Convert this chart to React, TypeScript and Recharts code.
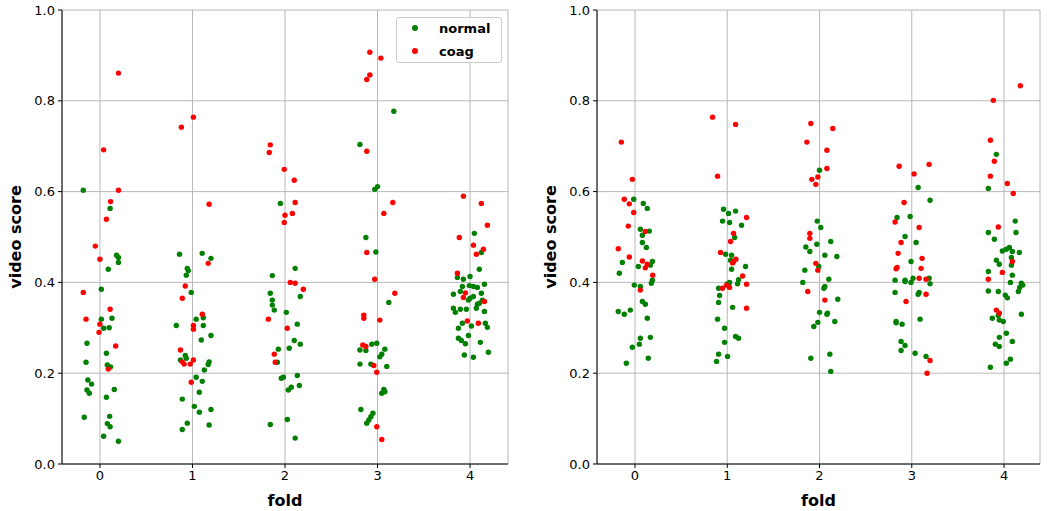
import { CartesianGrid, Legend, Scatter, ScatterChart, XAxis, YAxis } from "recharts";

// each fold: [jitter, score]
type Pt = [number, number];

const folds = [0, 1, 2, 3, 4];
const yTicks = [0, 0.2, 0.4, 0.6, 0.8, 1.0];

const leftNormal: Pt[][] = [
  [[-0.18,0.603],[0.11,0.563],[0.18,0.46],[0.2,0.455],[0.2,0.444],[0.09,0.429],[0.015,0.385],[0.015,0.319],[0.13,0.321],[0.04,0.299],[0.1,0.3],[-0.14,0.266],[0.07,0.244],[-0.15,0.224],[0.08,0.218],[0.115,0.214],[-0.13,0.185],[-0.09,0.176],[-0.14,0.163],[-0.115,0.156],[0.155,0.164],[0.07,0.147],[-0.17,0.103],[0.105,0.105],[0.08,0.089],[0.11,0.082],[0.04,0.061],[0.2,0.05]],
  [[-0.14,0.462],[0.105,0.464],[0.2,0.453],[-0.056,0.431],[-0.045,0.426],[-0.067,0.416],[-0.013,0.378],[0.04,0.319],[0.117,0.322],[-0.175,0.305],[0.117,0.305],[0.095,0.273],[0.2,0.283],[-0.078,0.239],[-0.067,0.233],[-0.13,0.229],[0.18,0.225],[0.17,0.219],[0.128,0.207],[0.04,0.191],[0.106,0.182],[0.074,0.158],[-0.11,0.143],[0.02,0.127],[0.2,0.12],[0.074,0.114],[-0.056,0.09],[0.18,0.086],[-0.11,0.076]],
  [[-0.05,0.574],[0.11,0.431],[-0.137,0.415],[0.165,0.369],[-0.159,0.376],[-0.137,0.361],[-0.137,0.35],[-0.116,0.339],[0.014,0.334],[0.133,0.308],[0.1,0.272],[0.165,0.264],[-0.072,0.253],[0.046,0.255],[-0.083,0.224],[0.133,0.195],[-0.04,0.189],[-0.018,0.191],[0.155,0.173],[0.068,0.169],[0.036,0.163],[0.025,0.098],[-0.159,0.087],[0.11,0.057]],
  [[0.176,0.777],[-0.19,0.704],[0,0.611],[-0.03,0.605],[-0.126,0.499],[-0.018,0.467],[0.122,0.356],[-0.062,0.264],[-0.008,0.266],[-0.19,0.251],[-0.126,0.25],[0.079,0.253],[0.046,0.242],[0.025,0.236],[-0.19,0.22],[-0.072,0.22],[0.1,0.215],[0.068,0.164],[0.079,0.159],[0.046,0.156],[-0.18,0.12],[-0.05,0.112],[-0.072,0.104],[-0.094,0.097],[-0.116,0.09]],
  [[0.046,0.508],[0.122,0.466],[0.1,0.429],[-0.137,0.411],[-0.072,0.407],[0,0.413],[0.155,0.396],[-0.083,0.391],[-0.008,0.393],[0.036,0.391],[0.079,0.389],[-0.105,0.38],[-0.18,0.374],[0.122,0.376],[0.036,0.369],[0,0.365],[-0.018,0.361],[0.133,0.361],[0.079,0.352],[0.1,0.354],[-0.18,0.343],[-0.159,0.334],[-0.105,0.341],[-0.04,0.341],[0.068,0.343],[0.155,0.336],[-0.083,0.31],[0.165,0.31],[0.014,0.304],[0.187,0.301],[-0.126,0.299],[-0.018,0.283],[-0.126,0.277],[-0.094,0.272],[-0.05,0.265],[0.111,0.268],[0.198,0.246],[-0.062,0.24],[0.036,0.235]],
];

const leftCoag: Pt[][] = [
  [[0.2,0.861],[0.04,0.692],[0.2,0.603],[0.115,0.578],[0.07,0.539],[-0.05,0.48],[0,0.451],[-0.18,0.378],[0.11,0.341],[-0.15,0.319],[0,0.308],[-0.01,0.29],[0.17,0.26],[0.09,0.209]],
  [[0.01,0.764],[-0.12,0.742],[0.18,0.572],[0.17,0.442],[-0.078,0.392],[-0.11,0.365],[0.106,0.33],[0.01,0.305],[0.01,0.297],[-0.13,0.251],[-0.11,0.225],[-0.09,0.22],[-0.024,0.22],[0.01,0.229],[-0.013,0.18]],
  [[-0.159,0.703],[-0.17,0.686],[-0.008,0.649],[0.1,0.625],[0.11,0.576],[0,0.548],[0.08,0.552],[-0.008,0.532],[0.057,0.4],[0.11,0.398],[0.198,0.385],[-0.18,0.319],[0.025,0.299],[-0.116,0.242],[-0.105,0.224]],
  [[-0.083,0.907],[0.036,0.894],[-0.083,0.857],[-0.116,0.847],[-0.116,0.689],[0.165,0.576],[0.068,0.552],[-0.116,0.466],[-0.03,0.407],[0.187,0.376],[-0.148,0.328],[-0.148,0.321],[0.025,0.317],[-0.159,0.262],[-0.126,0.259],[-0.04,0.217],[-0.008,0.202],[-0.008,0.082],[0.046,0.054]],
  [[-0.072,0.59],[0.122,0.574],[0.187,0.526],[-0.116,0.499],[0.036,0.482],[0.144,0.473],[0.068,0.462],[-0.137,0.42],[-0.05,0.377],[-0.072,0.367],[0.155,0.358],[-0.03,0.315],[0.09,0.31]],
];

const rightNormal: Pt[][] = [
  [[-0.014,0.583],[0.09,0.574],[0.133,0.563],[0.058,0.517],[0.155,0.513],[0.08,0.504],[0.08,0.488],[0.123,0.477],[-0.137,0.444],[0.188,0.446],[0.036,0.435],[0.166,0.438],[-0.17,0.42],[0.188,0.405],[0.177,0.398],[-0.008,0.394],[0.058,0.391],[0.08,0.358],[0.112,0.352],[-0.181,0.336],[-0.116,0.33],[-0.051,0.339],[0.133,0.321],[0.166,0.279],[0.058,0.277],[0.047,0.264],[-0.029,0.257],[0.144,0.233],[-0.094,0.222]],
  [[-0.04,0.561],[0.09,0.557],[0.014,0.552],[-0.051,0.535],[0.025,0.532],[0.155,0.526],[0.08,0.499],[-0.018,0.462],[0.047,0.46],[0.036,0.449],[0.198,0.435],[0.047,0.429],[0.122,0.406],[0.025,0.4],[0.003,0.397],[-0.094,0.387],[0.112,0.397],[-0.083,0.371],[-0.094,0.356],[0.058,0.345],[-0.105,0.319],[-0.029,0.299],[0.09,0.281],[0.122,0.277],[-0.029,0.268],[-0.094,0.242],[0.003,0.237],[-0.116,0.226]],
  [[0,0.647],[-0.025,0.535],[0.014,0.521],[-0.148,0.478],[0.122,0.49],[-0.029,0.484],[-0.105,0.468],[0.058,0.46],[0.188,0.457],[-0.008,0.435],[-0.159,0.427],[0.101,0.407],[-0.181,0.4],[0.058,0.391],[0.047,0.387],[0.198,0.363],[0,0.334],[0.087,0.332],[0.08,0.33],[0.166,0.314],[-0.018,0.312],[-0.062,0.303],[-0.094,0.233],[0.112,0.242],[0.122,0.204]],
  [[0.069,0.609],[0.198,0.581],[-0.159,0.543],[-0.018,0.545],[-0.073,0.501],[0.047,0.488],[-0.008,0.446],[-0.181,0.405],[-0.073,0.405],[-0.073,0.402],[0.014,0.409],[-0.008,0.4],[0.188,0.409],[0.198,0.397],[-0.181,0.378],[0.08,0.378],[0.069,0.374],[-0.17,0.314],[-0.17,0.311],[-0.105,0.308],[0.09,0.319],[-0.116,0.27],[-0.073,0.261],[-0.116,0.25],[0.036,0.244],[0.155,0.237]],
  [[-0.083,0.682],[-0.17,0.607],[0.122,0.535],[-0.17,0.51],[0.13,0.51],[-0.105,0.495],[0.058,0.477],[-0.018,0.469],[0.09,0.468],[0.166,0.466],[0.025,0.473],[0.08,0.455],[-0.083,0.449],[-0.051,0.44],[0.08,0.438],[-0.17,0.424],[0.09,0.416],[0.188,0.398],[0.203,0.394],[0.17,0.389],[0.069,0.4],[0.155,0.38],[-0.17,0.381],[-0.062,0.38],[0.014,0.372],[0.036,0.366],[-0.062,0.327],[0.188,0.33],[-0.127,0.321],[-0.051,0.317],[-0.008,0.314],[0.025,0.288],[-0.051,0.279],[0.09,0.27],[-0.094,0.264],[-0.051,0.259],[0.069,0.231],[0.025,0.222],[-0.148,0.213]],
];

const rightCoag: Pt[][] = [
  [[-0.148,0.709],[-0.029,0.627],[-0.116,0.583],[-0.062,0.573],[-0.014,0.554],[-0.073,0.524],[0.112,0.512],[-0.181,0.474],[-0.062,0.456],[0.08,0.447],[0.133,0.44],[0.112,0.432],[0.192,0.416],[0.058,0.383]],
  [[-0.159,0.764],[0.09,0.748],[-0.105,0.634],[0.209,0.543],[0.068,0.508],[0.036,0.49],[-0.073,0.466],[0.094,0.451],[0.068,0.446],[0.058,0.443],[0.166,0.414],[-0.008,0.394],[0.025,0.389],[-0.051,0.387],[0.209,0.396],[0.209,0.343]],
  [[-0.094,0.75],[0.144,0.739],[-0.137,0.709],[0.08,0.691],[0.08,0.651],[-0.083,0.627],[-0.018,0.632],[-0.04,0.616],[-0.105,0.508],[-0.105,0.497],[-0.04,0.442],[-0.018,0.427],[-0.127,0.38],[0.058,0.361]],
  [[-0.137,0.656],[0.188,0.66],[0.025,0.639],[-0.083,0.576],[-0.181,0.533],[0.08,0.521],[-0.116,0.488],[-0.148,0.464],[0.112,0.453],[-0.17,0.43],[-0.159,0.433],[0.101,0.431],[0.08,0.409],[0.155,0.407],[0.155,0.374],[-0.062,0.358],[0.198,0.228],[0.166,0.2]],
  [[0.177,0.833],[-0.116,0.801],[-0.148,0.713],[-0.105,0.667],[-0.148,0.634],[0.036,0.618],[0.1,0.596],[-0.062,0.522],[0.09,0.446],[-0.018,0.422],[-0.17,0.407],[-0.083,0.339],[-0.051,0.332]],
];

const GREEN = "#008000";
const RED = "#ff0000";
const FONT = "'DejaVu Sans', sans-serif";

const toPoints = (groups: Pt[][]) =>
  groups.flatMap((g, i) => g.map(([j, y]) => ({ x: folds[i] + j, y })));

const dot = (color: string) => (p: any) =>
  <circle cx={p.cx} cy={p.cy} r={2.7} fill={color} />;

const LegendBox = () => (
  <div style={{
    width: 104, height: 44, border: "1px solid #cccccc", borderRadius: 3,
    background: "rgba(255,255,255,0.85)", fontFamily: FONT, fontWeight: "bold",
    fontSize: 13, position: "relative",
  }}>
    {[["normal", GREEN, 10], ["coag", RED, 33]].map(([name, c, top]) => (
      <div key={name as string} style={{ position: "absolute", left: 0, top: (top as number) - 9, height: 18, display: "flex", alignItems: "center" }}>
        <span style={{ display: "inline-block", width: 6, height: 6, borderRadius: 3, background: c as string, marginLeft: 15 }} />
        <span style={{ marginLeft: 21 }}>{name}</span>
      </div>
    ))}
  </div>
);

type PanelProps = {
  left: number;
  width: number;
  right: number;
  domain: [number, number];
  normal: Pt[][];
  coag: Pt[][];
  legend?: boolean;
};

function Panel({ left, width, right, domain, normal, coag, legend }: PanelProps) {
  const plotLeft = 62;
  const plotW = width - plotLeft - right;
  return (
    <div style={{ position: "absolute", left, top: 0, width, height: 511 }}>
      <ScatterChart width={width} height={511} margin={{ top: 10, right, bottom: 17, left: 0 }}>
        <CartesianGrid stroke="#b0b0b0" strokeWidth={0.9} />
        <XAxis type="number" dataKey="x" domain={domain} ticks={folds} allowDataOverflow interval={0}
          height={30} tickSize={4} tickMargin={3} stroke="#000"
          tick={{ fill: "#000", fontSize: 13, fontFamily: FONT }} />
        <YAxis type="number" dataKey="y" domain={[0, 1]} ticks={yTicks} allowDataOverflow interval={0}
          width={62} tickSize={4} tickMargin={3} stroke="#000"
          tickFormatter={(v: number) => v.toFixed(1)}
          tick={{ fill: "#000", fontSize: 13, fontFamily: FONT }} />
        <XAxis xAxisId="top" orientation="top" type="number" domain={domain} allowDataOverflow
          height={0} tick={false} tickLine={false} stroke="#000" />
        <YAxis yAxisId="right" orientation="right" type="number" domain={[0, 1]} allowDataOverflow
          width={0} tick={false} tickLine={false} stroke="#000" />
        <Scatter name="normal" data={toPoints(normal)} fill={GREEN} shape={dot(GREEN)} isAnimationActive={false} />
        <Scatter name="coag" data={toPoints(coag)} fill={RED} shape={dot(RED)} isAnimationActive={false} />
        {legend && (
          <Legend layout="horizontal" verticalAlign="middle" content={() => <LegendBox />}
            wrapperStyle={{ left: 396, top: 17, width: 106, height: 46 }} />
        )}
      </ScatterChart>
      <div style={{
        position: "absolute", left: 15, top: 237, transform: "translate(-50%, -50%) rotate(-90deg)",
        fontFamily: FONT, fontWeight: "bold", fontSize: 16, whiteSpace: "nowrap",
      }}>video score</div>
      <div style={{
        position: "absolute", left: plotLeft + plotW / 2, top: 500, transform: "translate(-50%, -50%)",
        fontFamily: FONT, fontWeight: "bold", fontSize: 16, whiteSpace: "nowrap",
      }}>fold</div>
    </div>
  );
}

export default function App() {
  return (
    <div style={{ position: "absolute", left: 0, top: 0, width: 1054, height: 511, background: "#fff" }}>
      <Panel left={0} width={520} right={12} domain={[-0.41, 4.41]} normal={leftNormal} coag={leftCoag} legend />
      <Panel left={535} width={519} right={14} domain={[-0.412, 4.39]} normal={rightNormal} coag={rightCoag} />
    </div>
  );
}
